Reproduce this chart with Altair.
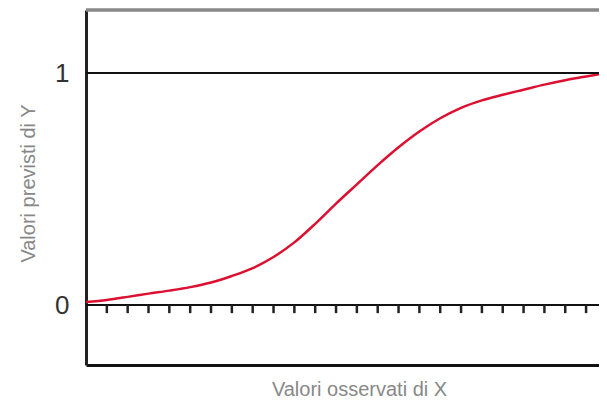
import altair as alt
import pandas as pd

# Curve (x in tick units 0..25, y predicted value)
curve_x = list(range(26))
curve_y = [0.013, 0.022, 0.035, 0.049, 0.062, 0.077, 0.097, 0.125, 0.159, 0.207,
           0.270, 0.350, 0.437, 0.520, 0.603, 0.680, 0.748, 0.805, 0.850, 0.882,
           0.906, 0.928, 0.950, 0.969, 0.985, 1.0]
tick_x = list(range(1, 26))
ref_y = [0, 1]
y_labels = [0, 1]

curve_df = pd.DataFrame({"x": curve_x, "y": curve_y})
tick_df = pd.DataFrame({"x": tick_x, "y": [0] * len(tick_x), "y2": [-0.035] * len(tick_x)})
ref_df = pd.DataFrame({"y": ref_y})

W, H = 513, 355
xs = alt.Scale(domain=[0, 24.62], nice=False, zero=False)
ys = alt.Scale(domain=[-0.2586, 1.2716], nice=False, zero=False)

FONT = "Liberation Sans"

x_axis = alt.Axis(title="Valori osservati di X", labels=False, ticks=False, grid=False,
                  domain=True, domainColor="#111", domainWidth=3,
                  titleFont=FONT, titleFontSize=20, titleFontWeight="normal",
                  titleColor="#888", titlePadding=14, titleX=273)
y_axis = alt.Axis(title="Valori previsti di Y", values=y_labels, format="d", ticks=False,
                  grid=False, domain=True, domainColor="#222", domainWidth=3,
                  labelFont=FONT, labelFontSize=26, labelColor="#333", labelPadding=17,
                  titleFont=FONT, titleFontSize=20, titleFontWeight="normal",
                  titleColor="#888", titleX=-58, titleY=173, titleAngle=270,
                  titleAlign="center", titleBaseline="middle")

curve = alt.Chart(curve_df).mark_line(color="#dc1030", strokeWidth=2.5, clip=True,
                                      interpolate="monotone").encode(
    x=alt.X("x:Q", scale=xs, axis=x_axis),
    y=alt.Y("y:Q", scale=ys, axis=y_axis),
)

refs = alt.Chart(ref_df).mark_rule(color="#111", strokeWidth=2.2).encode(
    y=alt.Y("y:Q", scale=ys, axis=y_axis),
)

ticks = alt.Chart(tick_df).mark_rule(color="#222", strokeWidth=2.5, clip=True).encode(
    x=alt.X("x:Q", scale=xs, axis=x_axis),
    y=alt.Y("y:Q", scale=ys, axis=y_axis),
    y2="y2:Q",
)

top_border = alt.Chart(ref_df).mark_rule(color="#888", strokeWidth=3).encode(
    x=alt.value(0), x2=alt.value(W), y=alt.value(0),
)

chart = alt.layer(curve, refs, ticks, top_border).properties(
    width=W, height=H,
    autosize=alt.AutoSizeParams(type="none"),
    padding={"left": 78, "top": 2, "right": 0, "bottom": 38},
    background="white",
).configure_view(stroke=None)

chart.save("out.html", embed_options={"renderer": "svg", "actions": False})
